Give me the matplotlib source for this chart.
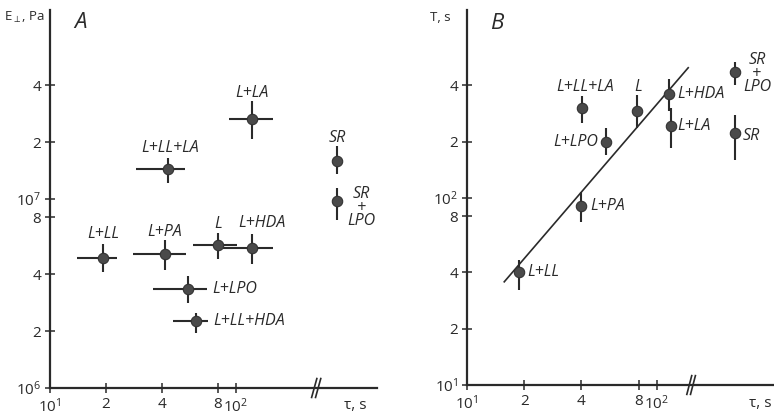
import numpy as np
import matplotlib
matplotlib.use("Agg")
import matplotlib.pyplot as plt
from matplotlib.ticker import FixedLocator, FixedFormatter, NullLocator

plt.rcParams.update({
    "font.family": ["Open Sans", "DejaVu Sans"],
    "mathtext.default": "regular",
    "font.size": 9.5,
    "text.color": "#2a2a2a",
})
INK = "#2a2a2a"
DOT = "#4a4a4a"

# ---------------------------------------------------------------- data
# panel A: modulus E_perp (Pa) vs relaxation time tau (s); SR groups sit past the axis break
names_a = ["L+LL", "L+PA", "L", "L+HDA", "L+LPO", "L+LL+HDA",
           "L+LL+LA", "L+LA", "SR", "SR\n+\nLPO"]
tau_a = [19.3, 41.5, 80, 122, 55, 61, 43, 122, None, None]
tau_a_lo = [14, 28, 59, 85, 36, 46, 29, 92, None, None]
tau_a_hi = [23, 54, 101, 158, 70, 71, 53, 158, None, None]
E_a = [4.9e6, 5.1e6, 5.7e6, 5.5e6, 3.35e6, 2.25e6, 1.44e7, 2.64e7, 1.58e7, 9.8e6]
E_a_lo = [4.1e6, 4.2e6, 4.8e6, 4.55e6, 2.8e6, 1.95e6, 1.21e7, 2.07e7, 1.36e7, 7.7e6]
E_a_hi = [5.8e6, 6.1e6, 6.6e6, 6.55e6, 3.9e6, 2.5e6, 1.65e7, 3.3e7, 1.9e7, 1.14e7]

# panel B: period T (s) vs tau (s)
names_b = ["L+LL", "L+PA", "L+LPO", "L+LL+LA", "L", "L+HDA", "L+LA",
           "SR\n+\nLPO", "SR"]
tau_b = [18.8, 39.8, 54, 40.3, 78.5, 116, 119, None, None]
T_b = [40.2, 90.6, 199, 303, 292, 360, 243, 472, 223]
T_b_lo = [32.2, 74.5, 170, 252, 237, 290, 185, 402, 160]
T_b_hi = [46.5, 108, 237, 351, 355, 432, 303, 533, 278]
fit_tau = [15.7, 146]
fit_T = [35.6, 496]

xtick_vals = [10, 20, 40, 80, 100]
xtick_labels = ["$10^1$", "2", "4", "8", "$10^2$"]
ytick_a_vals = [1e6, 2e6, 4e6, 8e6, 1e7, 2e7, 4e7]
ytick_a_labels = ["$10^6$", "2", "4", "8", "$10^7$", "2", "4"]
ytick_b_vals = [10, 20, 40, 80, 100, 200, 400]
ytick_b_labels = ["$10^1$", "2", "4", "8", "$10^2$", "2", "4"]

# label placement: (dx, dy) in pixels, horizontal alignment
lab_a = [(0, 24, "center"), (0, 22, "center"), (0, 21, "center"),
         (10, 25, "center"), (25, 0, "left"), (17, 0, "left"),
         (2, 21, "center"), (0, 26, "center"), (0, 23, "center"),
         (10, -7, "left")]
lab_b = [(8, 0, "left"), (9, 0, "left"), (-8, 0, "right"), (3, 21, "center"),
         (1, 24, "center"), (8, 0, "left"), (6, 0, "left"), (8, -2, "left"),
         (8, -3, "left")]


def style_axis(ax, xlim, ylim, yv, yl, brk):
    ax.set_xscale("log")
    ax.set_yscale("log")
    ax.set_xlim(*xlim)
    ax.set_ylim(*ylim)
    for s in ("top", "right"):
        ax.spines[s].set_visible(False)
    for s in ("left", "bottom"):
        ax.spines[s].set_linewidth(1.6)
        ax.spines[s].set_color(INK)
    ax.xaxis.set_major_locator(FixedLocator(xtick_vals))
    ax.xaxis.set_major_formatter(FixedFormatter(xtick_labels))
    ax.yaxis.set_major_locator(FixedLocator(yv))
    ax.yaxis.set_major_formatter(FixedFormatter(yl))
    ax.xaxis.set_minor_locator(NullLocator())
    ax.yaxis.set_minor_locator(NullLocator())
    ax.tick_params(direction="inout", length=7, width=1.1, color=INK,
                   labelsize=11, labelcolor=INK, pad=3)
    # axis break
    for off in (-0.012, 0.0):
        ax.plot([brk + off - 0.008, brk + off + 0.008], [-0.025, 0.025],
                transform=ax.transAxes, color=INK, lw=1.2, clip_on=False)


def draw(ax, names, tau, lo, hi, val, vlo, vhi, labs, xbreak):
    for i, n in enumerate(names):
        x = tau[i] if tau[i] is not None else xbreak
        xerr = None
        if tau[i] is not None and lo is not None:
            xerr = [[tau[i] - lo[i]], [hi[i] - tau[i]]]
        yerr = [[val[i] - vlo[i]], [vhi[i] - val[i]]]
        ax.errorbar([x], [val[i]], xerr=xerr, yerr=yerr, fmt="o", ms=7.5,
                    mfc=DOT, mec="#333333", mew=0.8, ecolor=INK,
                    elinewidth=1.5, capsize=0, zorder=3)
        dx, dy, ha = labs[i]
        ax.annotate(n, (x, val[i]), xytext=(dx, dy), textcoords="offset pixels",
                    ha=ha, va="center", style="italic", fontsize=11.5,
                    linespacing=0.8, multialignment="center", color=INK,
                    annotation_clip=False)


fig = plt.figure(figsize=(7.74, 4.2), dpi=100)
axA = fig.add_axes([0.0646, 0.0762, 0.4225, 0.9])
axB = fig.add_axes([0.6034, 0.0833, 0.3966, 0.893])

style_axis(axA, (10, 573), (1e6, 1e8), ytick_a_vals, ytick_a_labels, 0.82)
style_axis(axB, (10, 413), (10, 1010), ytick_b_vals, ytick_b_labels, 0.736)

draw(axA, names_a, tau_a, tau_a_lo, tau_a_hi, E_a, E_a_lo, E_a_hi, lab_a, 350)
draw(axB, names_b, tau_b, None, None, T_b, T_b_lo, T_b_hi, lab_b, 257)
axB.plot(fit_tau, fit_T, color=INK, lw=1.2, zorder=2)

axA.text(-0.015, 0.981, r"E$_{\perp}$, Pa", transform=axA.transAxes,
         ha="right", va="center", fontsize=9.5)
axA.text(0.092, 0.966, "A", transform=axA.transAxes, ha="center",
         va="center", style="italic", fontsize=16)
axA.text(0.933, -0.045, "τ, s", transform=axA.transAxes, ha="center",
         va="center", fontsize=11)
axB.text(-0.052, 0.981, "T, s", transform=axB.transAxes, ha="right",
         va="center", fontsize=9.5)
axB.text(0.098, 0.965, "B", transform=axB.transAxes, ha="center",
         va="center", style="italic", fontsize=16)
axB.text(0.955, -0.05, "τ, s", transform=axB.transAxes, ha="center",
         va="center", fontsize=11, clip_on=False)

fig.savefig("out.png", dpi=100)
